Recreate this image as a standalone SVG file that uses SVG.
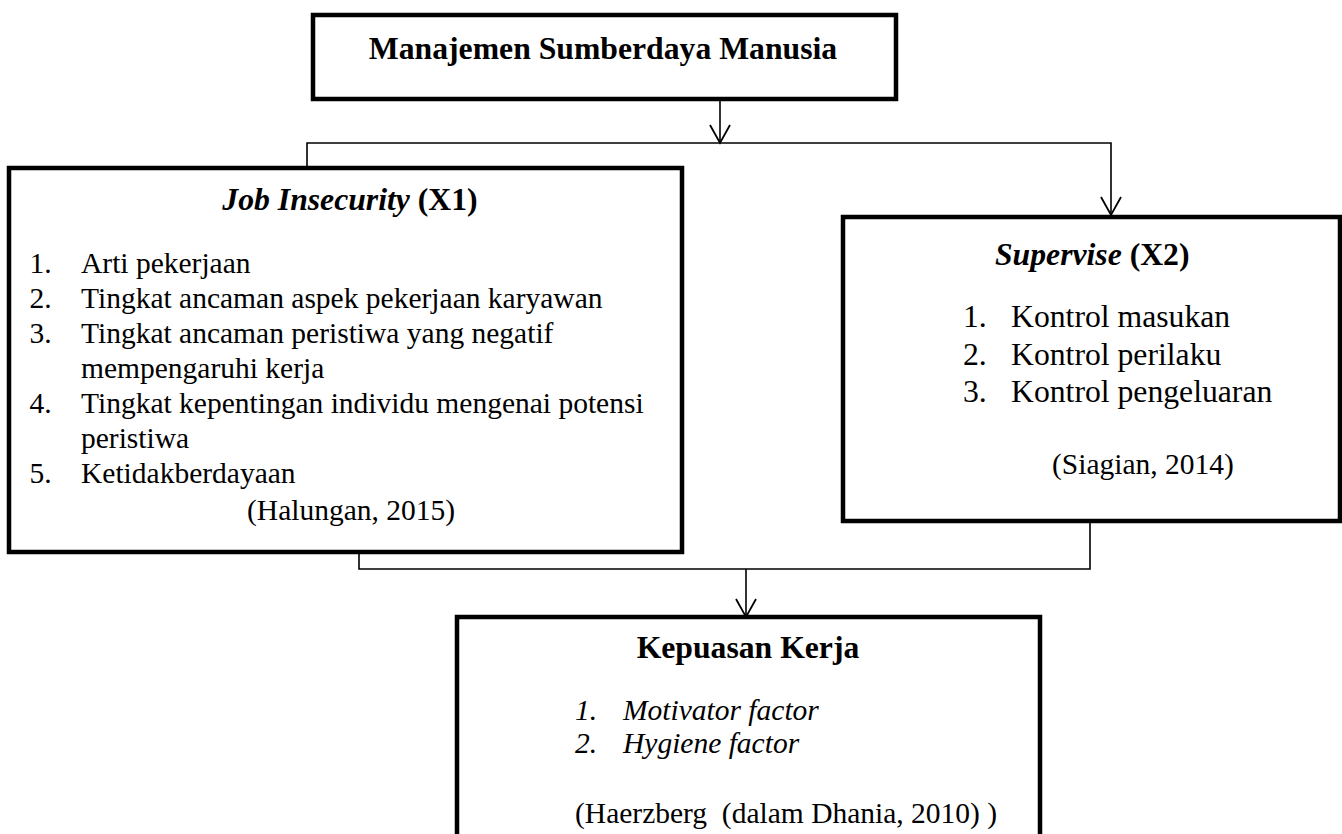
<svg xmlns="http://www.w3.org/2000/svg" width="1342" height="834" viewBox="0 0 1342 834">
<style>
text{font-family:"Liberation Serif","Times New Roman",serif;fill:#000;white-space:pre}
.box{fill:#fff;stroke:#000;stroke-width:4.5}
.t{font-weight:bold;font-size:31.7px}
.b{font-size:29.5px}
.b2{font-size:31.7px}
.i{font-style:italic}
.c{fill:none;stroke:#000;stroke-width:1.6}
.ah{fill:none;stroke:#000;stroke-width:1.8}
</style>
<rect width="1342" height="834" fill="#fff"/>
<g id="connectors">
<path class="c" d="M720,99 V143"/>
<path class="ah" d="M710,125 L720,143 L730,125"/>
<path class="c" d="M307,168 V143 H1111 V215"/>
<path class="ah" d="M1101,197 L1111,215 L1121,197"/>
<path class="c" d="M359,552 V569 H1090 V521"/>
<path class="c" d="M746,569 V617"/>
<path class="ah" d="M736,599 L746,617 L756,599"/>
</g>
<g id="msdm">
<rect class="box" x="313" y="15" width="583" height="84"/>
<text class="t" x="603" y="59" text-anchor="middle">Manajemen Sumberdaya Manusia</text>
</g>
<g id="x1">
<rect class="box" x="9" y="168" width="673" height="384"/>
<text class="t" x="350" y="210" text-anchor="middle"><tspan font-style="italic">Job Insecurity</tspan> (X1)</text>
<text class="b" x="29.5" y="273">1.</text><text class="b" x="81" y="273">Arti pekerjaan</text>
<text class="b" x="29.5" y="308">2.</text><text class="b" x="81" y="308">Tingkat ancaman aspek pekerjaan karyawan</text>
<text class="b" x="29.5" y="343">3.</text><text class="b" x="81" y="343">Tingkat ancaman peristiwa yang negatif</text>
<text class="b" x="81" y="378">mempengaruhi kerja</text>
<text class="b" x="29.5" y="413">4.</text><text class="b" x="81" y="413">Tingkat kepentingan individu mengenai potensi</text>
<text class="b" x="81" y="448">peristiwa</text>
<text class="b" x="29.5" y="483">5.</text><text class="b" x="81" y="483">Ketidakberdayaan</text>
<text class="b" x="247" y="520">(Halungan, 2015)</text>
</g>
<g id="x2">
<rect class="box" x="843" y="217" width="497" height="304"/>
<text class="t" x="995" y="265"><tspan font-style="italic">Supervise</tspan> (X2)</text>
<text class="b2" x="963" y="327">1.</text><text class="b2" x="1011" y="327">Kontrol masukan</text>
<text class="b2" x="963" y="365">2.</text><text class="b2" x="1011" y="365">Kontrol perilaku</text>
<text class="b2" x="963" y="402">3.</text><text class="b2" x="1011" y="402">Kontrol pengeluaran</text>
<text class="b" x="1052" y="474">(Siagian, 2014)</text>
</g>
<g id="y">
<rect class="box" x="457" y="617" width="583" height="240"/>
<text class="t" x="748" y="658" text-anchor="middle">Kepuasan Kerja</text>
<text class="b i" x="575" y="720">1.</text><text class="b i" x="623" y="720">Motivator factor</text>
<text class="b i" x="575" y="753">2.</text><text class="b i" x="623" y="753">Hygiene factor</text>
<text class="b" x="575" y="823">(Haerzberg  (dalam Dhania, 2010) )</text>
</g>
</svg>
